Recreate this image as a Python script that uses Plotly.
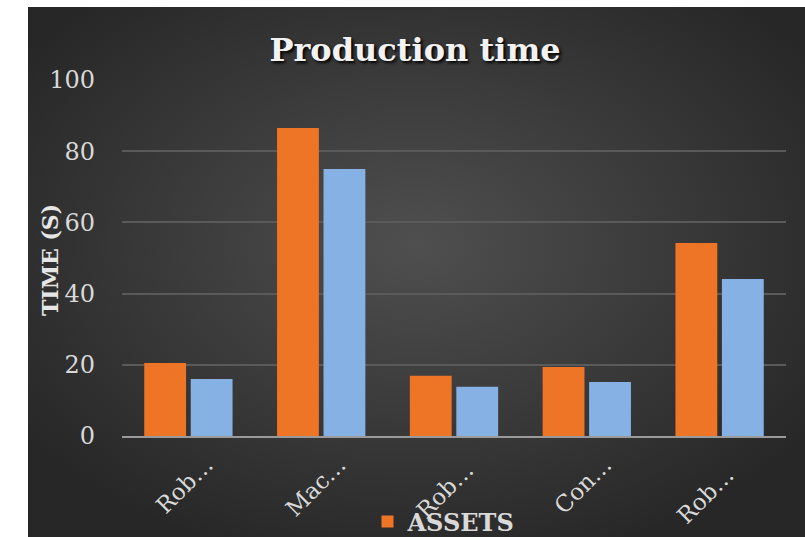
import base64
import plotly.graph_objects as go

categories = ["Rob…", "Mac…", "Rob… ", "Con…", "Rob…  "]
assets = [20.5, 86.5, 16.9, 19.4, 54.2]
pioneer = [16.0, 75.0, 13.8, 15.2, 44.1]
y_ticks = [0, 20, 40, 60, 80, 100]

FONT = "DejaVu Serif"

svg = (
    "<svg xmlns='http://www.w3.org/2000/svg' width='777' height='530' viewBox='0 0 777 530' "
    "preserveAspectRatio='none'><defs><radialGradient id='g' cx='0.5' cy='0.45' r='0.62'>"
    "<stop offset='0' stop-color='#4f4f4f'/><stop offset='1' stop-color='#272727'/>"
    "</radialGradient></defs><rect width='777' height='530' fill='url(#g)'/></svg>"
)
bg_src = "data:image/svg+xml;base64," + base64.b64encode(svg.encode()).decode()

fig = go.Figure()
fig.add_trace(go.Bar(x=categories, y=assets, name="ASSETS",
                     marker=dict(color="#EE7426", line=dict(width=0))))
fig.add_trace(go.Bar(x=categories, y=pioneer, name="Pioneer", showlegend=False,
                     marker=dict(color="#86B1E4", line=dict(width=0))))

W, H = 805, 537
L, R, T, B = 122, 19, 80, 101
pw, ph = W - L - R, H - T - B

def px_x(p):
    return (p - L) / pw

def px_y(p):
    return (H - B - p) / ph

fig.update_layout(
    width=W, height=H,
    margin=dict(l=L, r=R, t=T, b=B, autoexpand=False),
    paper_bgcolor="white",
    plot_bgcolor="rgba(0,0,0,0)",
    barmode="group", bargap=0.3, bargroupgap=0.1,
    font=dict(family=FONT, color="#d9d9d9"),
    title=dict(text="Production time", x=415 / W, xanchor="center", y=1 - 50 / H, yanchor="middle",
               xref="container", yref="container",
               font=dict(family=FONT, size=32, color="#f2f2f2", weight="bold",
                         shadow="2px 2px 3px #000")),
    showlegend=True,
    legend=dict(orientation="h", x=444 / W, xanchor="center", y=1 - 522 / H, yanchor="middle",
                xref="container", yref="container",
                font=dict(family=FONT, size=24, color="#d9d9d9", weight="bold"),
                bgcolor="rgba(0,0,0,0)"),
    images=[dict(source=bg_src, xref="paper", yref="paper",
                 x=px_x(28), y=px_y(7), sizex=(805 - 28) / pw, sizey=(537 - 7) / ph,
                 xanchor="left", yanchor="top", sizing="stretch", layer="below")],
    annotations=[dict(text="TIME (S)", textangle=-90, xref="paper", yref="paper",
                      x=px_x(50), y=px_y(260), xanchor="center", yanchor="middle",
                      showarrow=False,
                      font=dict(family=FONT, size=22, color="#e6e6e6", weight="bold"))],
)
fig.update_xaxes(tickangle=-45, tickfont=dict(size=23, color="#d9d9d9"),
                 showgrid=False, showline=True, linecolor="#9a9a9a", linewidth=2,
                 ticks="", ticklabelshift=18, ticklabelstandoff=4, automargin=False)
fig.update_yaxes(range=[0, 100], tickvals=y_ticks, tickfont=dict(size=24, color="#d9d9d9"),
                 showgrid=True, gridcolor="#5a5a5a", gridwidth=1.5, zeroline=False,
                 showline=False, ticks="", ticklabelstandoff=26, automargin=False)

fig.write_html("out.html")
